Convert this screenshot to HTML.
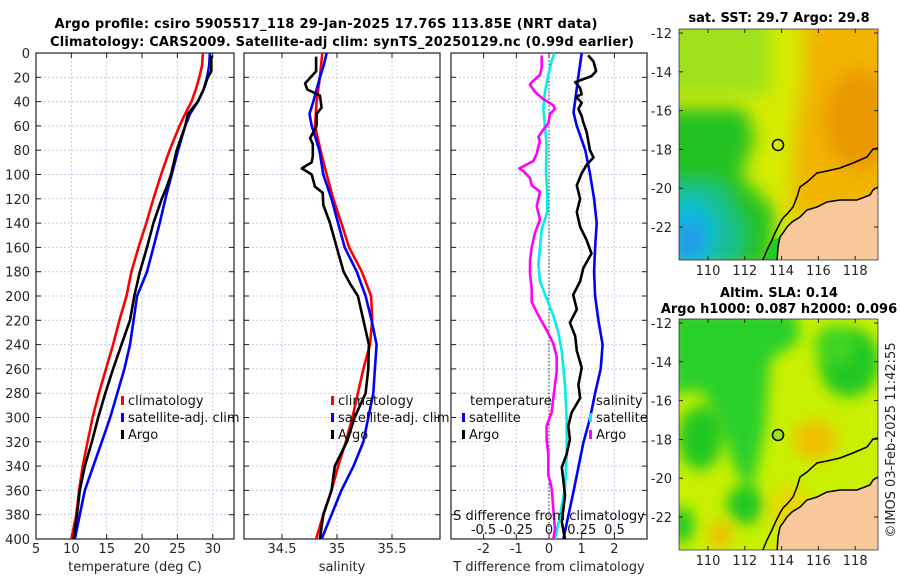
<!DOCTYPE html>
<html><head><meta charset="utf-8">
<style>
body{margin:0;background:#fff;width:900px;height:580px;overflow:hidden}
svg{display:block;font-family:"DejaVu Sans","Liberation Sans",sans-serif}
</style></head>
<body>
<svg id="chart" width="900" height="580" viewBox="0 0 900 580">
<defs>
<filter id="bl1" x="-30%" y="-30%" width="160%" height="160%"><feGaussianBlur stdDeviation="9"/></filter>
<filter id="bl2" x="-30%" y="-30%" width="160%" height="160%"><feGaussianBlur stdDeviation="7"/></filter>
<clipPath id="c1"><rect x="679" y="29" width="199" height="231"/></clipPath>
<clipPath id="c2"><rect x="679" y="319" width="199" height="231"/></clipPath>
</defs>
<text x="326" y="28" text-anchor="middle" font-size="13" font-weight="bold" textLength="543">Argo profile: csiro 5905517_118 29-Jan-2025 17.76S 113.85E (NRT data)</text>
<text x="342" y="46" text-anchor="middle" font-size="13" font-weight="bold" textLength="584">Climatology: CARS2009. Satellite-adj clim: synTS_20250129.nc (0.99d earlier)</text>

<g id="p1"></g>
<g id="p2"></g>
<g id="p3"></g>

<!-- SST map -->
<g>
<text x="779" y="22" text-anchor="middle" font-size="13" font-weight="bold">sat. SST: 29.7 Argo: 29.8</text>
<g clip-path="url(#c1)">
<rect x="679" y="29" width="199" height="231" fill="#d6ec00"/>
<g filter="url(#bl1)">
<rect x="660" y="10" width="110" height="85" fill="#9ee21a"/>
<polygon points="800,10 900,10 900,200 790,220 795,130 805,60" fill="#f2b400"/>
<ellipse cx="860" cy="120" rx="35" ry="50" fill="#ea9800"/>
<polygon points="660,108 745,108 755,140 740,175 775,210 770,270 660,270" fill="#22c222"/>
<polygon points="660,180 720,185 745,230 735,270 660,270" fill="#14c090"/>
<ellipse cx="690" cy="235" rx="25" ry="35" fill="#10b8e0"/>
</g>
<ellipse cx="690" cy="240" rx="12" ry="18" fill="#2a98e8" filter="url(#bl2)"/>
<polygon id="land1" fill="#f9c89a" points=""/>
<polygon id="green1" fill="#22cc22" points=""/>
<polyline id="coast1" fill="none" stroke="#000" stroke-width="1.5" points=""/>
<polyline id="coast1b" fill="none" stroke="#000" stroke-width="1.5" points=""/>
</g>
<rect x="679" y="29" width="199" height="231" fill="none" stroke="#000" stroke-width="0.6"/>
<circle cx="778" cy="145" r="5.5" fill="none" stroke="#000" stroke-width="1.5"/>
<g id="m1axes"></g>
</g>

<!-- SLA map -->
<g>
<text x="779" y="297" text-anchor="middle" font-size="13" font-weight="bold">Altim. SLA: 0.14</text>
<text x="779" y="313" text-anchor="middle" font-size="13" font-weight="bold">Argo h1000: 0.087 h2000: 0.096</text>
<g clip-path="url(#c2)">
<rect x="679" y="319" width="199" height="231" fill="#c8f000"/>
<g filter="url(#bl2)">
<polygon points="670,310 795,310 800,340 770,360 765,430 752,490 735,470 720,420 700,390 670,395" fill="#2ad02a"/>
<ellipse cx="700" cy="438" rx="22" ry="32" fill="#22c822"/>
<ellipse cx="849" cy="362" rx="30" ry="35" fill="#22c822"/>
<ellipse cx="835" cy="345" rx="20" ry="20" fill="#40d420"/>
<ellipse cx="745" cy="505" rx="18" ry="20" fill="#22c822"/>
<ellipse cx="682" cy="525" rx="12" ry="18" fill="#22c822"/>
<ellipse cx="815" cy="440" rx="22" ry="20" fill="#f0c000"/>
<ellipse cx="720" cy="535" rx="12" ry="14" fill="#f0c000"/>
<ellipse cx="790" cy="510" rx="20" ry="25" fill="#e8d800"/>
</g>
<polygon id="land2" fill="#f9c89a" points=""/>
<polygon id="green2" fill="#d0ec00" points=""/>
<polyline id="coast2" fill="none" stroke="#000" stroke-width="1.5" points=""/>
<polyline id="coast2b" fill="none" stroke="#000" stroke-width="1.5" points=""/>
</g>
<rect x="679" y="319" width="199" height="231" fill="none" stroke="#000" stroke-width="0.6"/>
<circle cx="778" cy="435" r="5.5" fill="#9ee020" stroke="#000" stroke-width="1.5"/>
<g id="m2axes"></g>
</g>
<text transform="translate(895,440) rotate(-90)" text-anchor="middle" font-size="13" fill="#222">©IMOS 03-Feb-2025 11:42:55</text>
</svg>
<script>
// ---- data ----
const depthTicks = [0,20,40,60,80,100,120,140,160,180,200,220,240,260,280,300,320,340,360,380,400];
const tempTicks = [5,10,15,20,25,30];
const salTicks = [34.5,35,35.5];
const tdiffTicks = [-2,-1,0,1,2];
const sdiffTicks = [-0.5,-0.25,0,0.25,0.5];
const sdiffTickLabels = ["-0.5","-0.25","0","0.25","0.5"];

const climTDepth = [0,10,20,30,40,50,60,80,100,120,140,160,180,200,220,240,260,280,300,320,340,360,380,400];
const climTemp   = [28.6,28.5,28.1,27.6,27.0,26.1,25.3,23.9,22.7,21.6,20.6,19.5,18.5,17.8,16.8,15.9,14.9,13.9,13.0,12.3,11.6,11.1,10.7,10.0];
const satTemp    = [29.6,29.5,29.2,28.7,27.9,26.8,26.1,25.1,24.2,23.3,22.5,21.6,20.7,19.3,18.8,18.3,17.5,16.5,15.5,14.3,13.1,11.9,11.2,10.5];
const argoTDepth = [2,15,20,30,40,50,60,80,100,110,120,140,160,180,200,220,240,260,280,300,320,340,360,380,400];
const argoTemp   = [29.8,29.8,29.3,28.7,27.9,26.5,26.1,24.9,24.1,23.5,22.8,21.6,20.7,19.7,18.9,18.3,17.1,15.9,14.8,13.8,12.9,11.9,11.2,10.8,10.3];

const climSDepth = [0,20,40,60,80,100,120,140,160,180,200,220,240,260,280,300,320,340,360,380,400];
const climSal    = [34.866,34.845,34.815,34.80,34.85,34.906,34.966,35.04,35.11,35.225,35.31,35.32,35.30,35.24,35.19,35.14,35.08,35.01,34.95,34.875,34.81];
const satSDepth  = [0,10,20,40,50,60,80,100,120,140,160,180,200,220,240,260,280,300,320,340,360,380,400];
const satSal     = [34.906,34.88,34.845,34.785,34.75,34.77,34.84,34.875,34.95,35.01,35.07,35.18,35.26,35.315,35.36,35.345,35.33,35.285,35.24,35.15,35.04,34.95,34.86];
const argoSDepth = [3,15,25,30,35,45,50,60,70,75,85,90,95,100,110,115,125,140,160,180,190,200,220,240,260,280,300,320,340,360,380,400];
const argoSal    = [34.81,34.81,34.71,34.73,34.845,34.86,34.815,34.815,34.755,34.78,34.78,34.77,34.68,34.77,34.80,34.87,34.875,34.936,34.997,35.06,35.12,35.19,35.24,35.29,35.285,35.26,35.16,35.09,34.98,34.95,34.875,34.845];

const satTdDepth = [0,19,39,49,60,80,99,120,140,160,180,200,220,240,260,280,301,321,341,361,381,400];
const satTdiff   = [1.0,0.90,0.80,0.75,0.85,1.11,1.25,1.38,1.46,1.41,1.38,1.41,1.51,1.64,1.58,1.41,1.25,1.05,0.90,0.75,0.59,0.44];
const argoTdDepth = [2,7,15,19,24,29,34,36,41,46,52,57,65,72,80,86,92,99,109,120,131,143,154,165,177,188,199,211,222,233,245,259,273,284,296,307,318,330,341,352,364,375,386,400];
const argoTdiff   = [1.20,1.36,1.44,1.30,0.80,0.95,1.0,0.83,1.0,0.90,1.0,1.05,1.15,1.20,1.25,1.36,1.15,1.0,0.85,0.95,0.85,0.95,1.15,1.30,1.05,0.95,0.74,0.85,0.64,0.80,0.85,1.0,0.90,0.95,0.69,0.59,0.64,0.54,0.39,0.44,0.49,0.44,0.39,0.49];
const satSdDepth = [0,7,18,32,46,60,75,97,117,131,145,160,174,188,202,216,230,245,273,301,330,358,381,400];
const satSdiff   = [0.041,0.02,-0.005,-0.031,-0.043,-0.031,-0.018,-0.023,-0.013,-0.013,-0.056,-0.069,-0.081,-0.069,-0.018,0.033,0.071,0.097,0.122,0.135,0.135,0.122,0.084,0.046];
const argoSdDepth = [2,12,18,24,26,32,38,43,46,50,58,63,69,73,77,83,89,95,97,103,109,114,120,126,137,148,160,171,182,194,205,216,228,239,250,262,273,284,296,307,318,330,347,358,375,392,400];
const argoSdiff   = [-0.056,-0.056,-0.069,-0.132,-0.145,-0.107,-0.043,0.033,0.046,0.008,-0.005,-0.043,-0.081,-0.069,-0.081,-0.094,-0.12,-0.227,-0.196,-0.145,-0.132,-0.069,-0.081,-0.094,-0.069,-0.107,-0.132,-0.145,-0.145,-0.132,-0.132,-0.081,-0.018,0.033,0.059,0.059,0.046,0.033,0.02,-0.018,-0.018,-0.005,-0.005,0.02,0.033,0.046,0.033];

const lonTicks = [110,112,114,116,118];
const latTicks = [-12,-14,-16,-18,-20,-22];

// ---- layout ----
const NS='http://www.w3.org/2000/svg';
const Y0=53, Y1=539;
const yD = d => Y0 + d*(Y1-Y0)/400;
const P1={x0:36,x1:234}, P2={x0:244,x1:440}, P3={x0:451,x1:647};
const xT = t => 36 + (t-5)*7.07;
const xS = s => 337 + (s-35)*110;
const xTd = t => 549 + t*32.7;
const xSd = s => 549 + s*131;

function mk(tag, attrs, parent){
  const e=document.createElementNS(NS,tag);
  for(const k in attrs) e.setAttribute(k,attrs[k]);
  parent.appendChild(e); return e;
}
function line(par,x1,y1,x2,y2,st,w,dash){
  const l=mk('line',{x1:x1,y1:y1,x2:x2,y2:y2,stroke:st,'stroke-width':w||1},par);
  if(dash) l.setAttribute('stroke-dasharray',dash);
  return l;
}
function txt(par,x,y,s,anchor,size){
  const t=mk('text',{x:x,y:y,'text-anchor':anchor||'middle','font-size':size||13,fill:'#262626'},par);
  t.textContent=s; return t;
}
function panelFrame(par,P,xticks,xfun,labels){
  // horizontal grid
  depthTicks.forEach(d=>{
    const g=line(par,P.x0,yD(d),P.x1,yD(d),'#c5cbe6',1,'2,2');
    
    
    line(par,P.x0,yD(d),P.x0+5,yD(d),'#222',1);
    line(par,P.x1-5,yD(d),P.x1,yD(d),'#222',1);
  });
  xticks.forEach((v,i)=>{
    const x=xfun(v);
    const g=line(par,x,Y0,x,Y1,'#c5cbe6',1,'2,2');
    
    
    line(par,x,Y0,x,Y0+5,'#222',1);
    line(par,x,Y1-5,x,Y1,'#222',1);
    if(labels){
      const t=txt(par,x,553,labels[i]);
      
      
    }
  });
  const r=mk('rect',{x:P.x0,y:Y0,width:P.x1-P.x0,height:Y1-Y0,fill:'none',stroke:'#222','stroke-width':1.2},par);
  
  
}
function series(par,xs,ds,xfun,color,name){
  const pts=xs.map((v,i)=>xfun(v).toFixed(1)+','+yD(ds[i]).toFixed(1)).join(' ');
  const p=mk('polyline',{points:pts,fill:'none',stroke:color,'stroke-width':2.6,'stroke-linejoin':'round'},par);
  
  
}
function legendEntry(par,x,y,color,label,name){
  mk('rect',{x:x,y:y-9,width:3,height:9,fill:color},par);
  const t=txt(par,x+7,y,label,'start',13);
  t.setAttribute('fill','#111');
  
  
}

// Panel 1
const p1=document.getElementById('p1');
panelFrame(p1,P1,tempTicks,xT,tempTicks.map(String));
depthTicks.forEach(d=>{
  const t=txt(p1,30,yD(d)+5,String(d),'end');
  
  
});
const xl1=txt(p1,135,571,'temperature (deg C)');


series(p1,climTemp,climTDepth,xT,'#ff0000','climatology-temp-line');
series(p1,satTemp,climTDepth,xT,'#0000ff','satellite-temp-line');
series(p1,argoTemp,argoTDepth,xT,'#000000','argo-temp-line');
legendEntry(p1,121,405,'#ff0000','climatology','legend-climatology');
legendEntry(p1,121,422,'#0000ff','satellite-adj. clim','legend-satellite');
legendEntry(p1,121,439,'#000000','Argo','legend-argo');

// Panel 2
const p2=document.getElementById('p2');
panelFrame(p2,P2,salTicks,xS,['34.5','35','35.5']);
const xl2=txt(p2,342,571,'salinity');


series(p2,climSal,climSDepth,xS,'#ff0000','climatology-sal-line');
series(p2,satSal,satSDepth,xS,'#0000ff','satellite-sal-line');
series(p2,argoSal,argoSDepth,xS,'#000000','argo-sal-line');
legendEntry(p2,331,405,'#ff0000','climatology','legend-climatology-sal');
legendEntry(p2,331,422,'#0000ff','satellite-adj. clim','legend-satellite-sal');
legendEntry(p2,331,439,'#000000','Argo','legend-argo-sal');

// Panel 3
const p3=document.getElementById('p3');
panelFrame(p3,P3,tdiffTicks,xTd,tdiffTicks.map(String));
const zl=line(p3,xTd(0),Y0,xTd(0),Y1,'#333',1,'1.5,2');


const xl3=txt(p3,549,571,'T difference from climatology');


series(p3,satSdiff,satSdDepth,xSd,'#00eeee','satellite-sdiff-line');
series(p3,argoSdiff,argoSdDepth,xSd,'#ff00ff','argo-sdiff-line');
series(p3,satTdiff,satTdDepth,xTd,'#0000ff','satellite-tdiff-line');
series(p3,argoTdiff,argoTdDepth,xTd,'#000000','argo-tdiff-line');
const sl=txt(p3,549,520,'S difference from climatology');
sl.setAttribute('fill','#111');


sdiffTicks.forEach((v,i)=>{
  const t=txt(p3,xSd(v),534,sdiffTickLabels[i]);
  t.setAttribute('fill','#111');
  
  
});
const lt=txt(p3,470,405,'temperature','start');
lt.setAttribute('fill','#111');


legendEntry(p3,462,422,'#0000ff','satellite','legend-t-satellite');
legendEntry(p3,462,439,'#000000','Argo','legend-t-argo');
const ls=txt(p3,596,405,'salinity','start');
ls.setAttribute('fill','#111');


legendEntry(p3,589,422,'#00eeee','satellite','legend-s-satellite');
legendEntry(p3,589,439,'#ff00ff','Argo','legend-s-argo');

// Maps
const coast=[[878,148],[873,149],[867,157],[853,163],[840,168],[827,171],[817,173],[807,182],[800,187],[797,197],[793,207],[788,213],[783,218],[780,223],[775,233],[772,240],[767,250],[762,262]];
const landEdge=[[878,187],[873,190],[870,195],[857,200],[840,200],[827,202],[817,207],[807,210],[800,217],[792,222],[787,227],[783,233],[780,237],[778,247],[777,262]];
function pts(a,dy){return a.map(p=>p[0]+','+(p[1]+dy)).join(' ');}
function landPoly(dy){return pts(landEdge,dy)+' 880,'+(262+dy)+' 880,'+(187+dy);}
function greenPoly(dy){return '772,'+(240+dy)+' 780,'+(237+dy)+' 778,'+(247+dy)+' 777,'+(262+dy)+' 762,'+(262+dy);}
document.getElementById('land1').setAttribute('points',landPoly(0));
document.getElementById('green1').setAttribute('points',greenPoly(0));
document.getElementById('coast1').setAttribute('points',pts(coast,0));
document.getElementById('coast1b').setAttribute('points',pts(landEdge,0));
document.getElementById('land2').setAttribute('points',landPoly(290));
document.getElementById('green2').setAttribute('points',greenPoly(290));
document.getElementById('coast2').setAttribute('points',pts(coast,290));
document.getElementById('coast2b').setAttribute('points',pts(landEdge,290));
const xLon = l => 708 + (l-110)*18.4;
const yLat = (la,top) => top + 4 + (-12-la)*19.4;
function mapAxes(id,top,bottom){
  const g=document.getElementById(id);
  lonTicks.forEach(l=>{
    const x=xLon(l);
    line(g,x,bottom-4,x,bottom,'#222',1);
    line(g,x,top,x,top+4,'#222',1);
    const t=txt(g,x,bottom+15,String(l));
    
    
  });
  latTicks.forEach(la=>{
    const y=yLat(la,top);
    line(g,679,y,683,y,'#222',1);
    line(g,874,y,878,y,'#222',1);
    const t=txt(g,672,y+5,String(la),'end');
    
    
  });
}
mapAxes('m1axes',29,260);
mapAxes('m2axes',319,550);
</script>
</body></html>
